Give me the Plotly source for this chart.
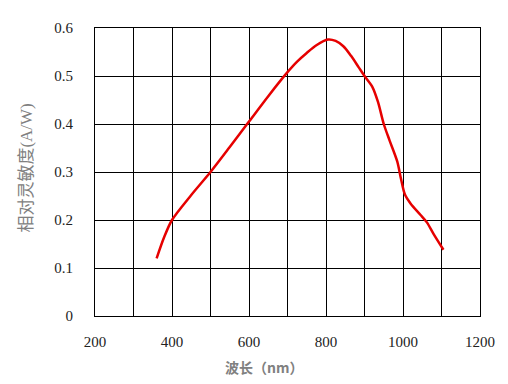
import plotly.graph_objects as go

wavelength = [360, 380, 400, 450, 500, 550, 600, 650, 700, 725, 750, 775, 805, 825,
              845, 865, 885, 900, 920, 935, 950, 965, 985, 995, 1005, 1020, 1045, 1062,
              1080, 1105]
response = [0.12, 0.165, 0.20, 0.252, 0.30, 0.352, 0.405, 0.458, 0.508, 0.530, 0.548,
            0.564, 0.576, 0.573, 0.562, 0.542, 0.518, 0.50, 0.478, 0.446, 0.40, 0.366,
            0.322, 0.285, 0.253, 0.234, 0.211, 0.195, 0.17, 0.138]

x_tick_vals = [200, 300, 400, 500, 600, 700, 800, 900, 1000, 1100, 1200]
x_tick_text = ["200", "", "400", "", "600", "", "800", "", "1000", "", "1200"]
y_tick_vals = [0, 0.1, 0.2, 0.3, 0.4, 0.5, 0.6]
y_tick_text = ["0", "0.1", "0.2", "0.3", "0.4", "0.5", "0.6"]

x_title = "波长（nm）"
y_title = "相对灵敏度(A/W)"

fig = go.Figure()
fig.add_trace(go.Scatter(
    x=wavelength, y=response, mode="lines",
    line=dict(color="#e60000", width=2.5, shape="spline", smoothing=0.8),
    showlegend=False, hoverinfo="skip"))

tick_font = dict(family="Times New Roman, Liberation Serif, serif", size=15, color="#222222")

# page body has an 8px offset; figure drawn 500x376 so it fills the 508x384 window
W, H = 500, 376
L, R, T, B = 87, 28, 13, 68
pw, ph = W - L - R, H - T - B

fig.update_layout(
    width=W, height=H,
    margin=dict(l=L, r=R, t=T, b=B),
    paper_bgcolor="white", plot_bgcolor="white",
    xaxis=dict(range=[200, 1200], tickvals=x_tick_vals, ticktext=x_tick_text,
               showgrid=True, gridcolor="black", gridwidth=1,
               showline=True, linecolor="black", linewidth=1, mirror=True,
               zeroline=False, ticks="", tickfont=tick_font, ticklabelstandoff=12,
               fixedrange=True),
    yaxis=dict(range=[0, 0.6], tickvals=y_tick_vals, ticktext=y_tick_text,
               showgrid=True, gridcolor="black", gridwidth=1,
               showline=True, linecolor="black", linewidth=1, mirror=True,
               zeroline=False, ticks="", tickfont=tick_font, ticklabelstandoff=18,
               fixedrange=True),
    annotations=[
        dict(text="<b>" + x_title + "</b>", xref="paper", yref="paper",
             x=(263.7 - 8 - L) / pw, y=-(368 - 316) / ph, xanchor="center", yanchor="middle",
             showarrow=False,
             font=dict(family="Noto Sans CJK SC, sans-serif", size=14, color="#808080")),
        dict(text=y_title, xref="paper", yref="paper",
             x=-(95 - 27) / pw, y=(316 - 165) / ph, xanchor="center", yanchor="middle",
             textangle=-90, showarrow=False,
             font=dict(family="Times New Roman, Liberation Serif, Noto Sans CJK SC, serif", size=17, color="#808080")),
    ],
)

fig.write_html("out.html")
